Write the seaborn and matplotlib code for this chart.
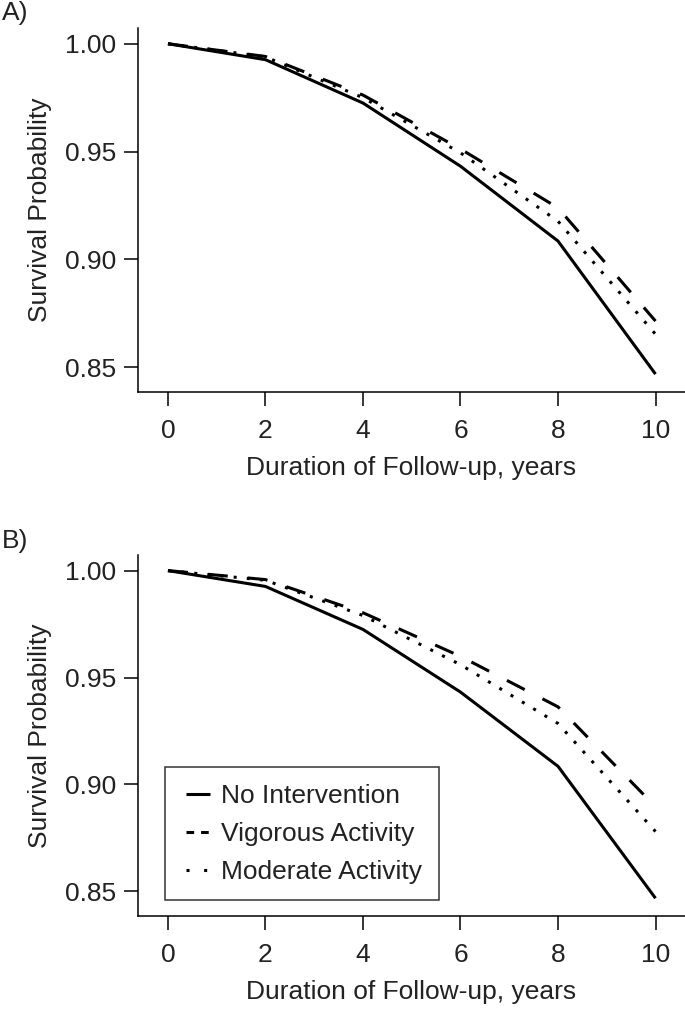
import matplotlib
matplotlib.use("Agg")
import matplotlib.pyplot as plt
from matplotlib.lines import Line2D
from matplotlib.legend_handler import HandlerLine2D
import seaborn as sns
import pandas as pd

# ---- data ----
years = [0, 2, 4, 6, 8, 10]
no_intervention = [1.000, 0.9926, 0.9725, 0.9432, 0.9085, 0.8468]
vigorous_A = [1.000, 0.9941, 0.9762, 0.9512, 0.9239, 0.8714]
moderate_A = [1.000, 0.9939, 0.9750, 0.9494, 0.9177, 0.8653]
vigorous_B = [1.000, 0.9958, 0.9803, 0.9599, 0.9363, 0.8896]
moderate_B = [1.000, 0.9955, 0.9790, 0.9560, 0.9285, 0.8780]
series_names = ["No Intervention", "Vigorous Activity", "Moderate Activity"]
panel_labels = ["A)", "B)"]
yticks = [0.85, 0.90, 0.95, 1.00]
xticks = [0, 2, 4, 6, 8, 10]
xlabel = "Duration of Follow-up, years"
ylabel = "Survival Probability"

sns.set_theme(style="ticks")
plt.rcParams["font.family"] = ["Liberation Sans", "DejaVu Sans"]
plt.rcParams["lines.scale_dashes"] = False
TXT = "#222222"
FS = 19

fig = plt.figure(figsize=(6.85, 10.09), dpi=100)
W, H = 685, 1009
def add_ax(top_px, bottom_px):
    return fig.add_axes([138 / W, 1 - bottom_px / H, 1 - 138 / W, (bottom_px - top_px) / H])

axA = add_ax(28, 392)
axB = add_ax(555, 916)

dash_map = {"No Intervention": "", "Vigorous Activity": (14.4, 14.4),
            "Moderate Activity": (2.2, 7.3)}

def make_df(vig, mod):
    rows = []
    for name, vals in zip(series_names, [no_intervention, vig, mod]):
        for x, v in zip(years, vals):
            rows.append({"year": x, "surv": v, "group": name})
    return pd.DataFrame(rows)

for ax, (vig, mod) in zip([axA, axB], [(vigorous_A, moderate_A), (vigorous_B, moderate_B)]):
    df = make_df(vig, mod)
    sns.lineplot(data=df, x="year", y="surv", hue="group", style="group",
                 palette=["black"] * 3, dashes=dash_map, linewidth=2.2,
                 legend=False, ax=ax, hue_order=series_names, style_order=series_names)
    for l in ax.get_lines():
        l.set_solid_capstyle("butt")
        l.set_dash_capstyle("butt")
    ax.set_xlim(-0.615, 10.605)
    ax.set_ylim(0.8385, 1.0073)
    ax.set_xticks(xticks)
    ax.set_xticklabels([str(t) for t in xticks])
    ax.set_yticks(yticks)
    ax.set_yticklabels([f"{t:.2f}" for t in yticks])
    ax.tick_params(axis="both", direction="out", length=9.8, width=1.1,
                   color="black", labelsize=FS, labelcolor=TXT)
    ax.tick_params(axis="y", pad=6)
    ax.tick_params(axis="x", pad=9.8)
    ax.set_xlabel(xlabel, fontsize=FS, color=TXT, labelpad=9)
    ax.set_ylabel(ylabel, fontsize=FS, color=TXT, labelpad=9)
    for s in ["top", "right"]:
        ax.spines[s].set_visible(False)
    for s in ["left", "bottom"]:
        ax.spines[s].set_linewidth(1.1)
        ax.spines[s].set_color("black")
    ax.set_facecolor("white")

handles = [
    Line2D([], [], color="black", lw=2.2, linestyle="-"),
    Line2D([], [], color="black", lw=2.2, dashes=(5.5, 5.0)),
    Line2D([], [], color="black", lw=2.2, dashes=(2.2, 10.5)),
]
for h in handles:
    h.set_dash_capstyle("butt")
    h.set_solid_capstyle("butt")
hmap = {h: HandlerLine2D(xpad=0.17) for h in handles}
leg = axB.legend(handles, series_names, loc="lower left", bbox_to_anchor=(0.049, 0.044),
                 borderaxespad=0, fontsize=FS, frameon=True, fancybox=False,
                 handlelength=1.08, handletextpad=0.44, labelspacing=0.53,
                 borderpad=0.62, labelcolor=TXT, handler_map=hmap)
leg.get_frame().set_edgecolor("black")
leg.get_frame().set_linewidth(1.1)

fig.text(2 / W, 1 - 13 / H, panel_labels[0], fontsize=FS, color=TXT, ha="left", va="center")
fig.text(2 / W, 1 - 541 / H, panel_labels[1], fontsize=FS, color=TXT, ha="left", va="center")

fig.savefig("out.png", dpi=100, facecolor="white")
